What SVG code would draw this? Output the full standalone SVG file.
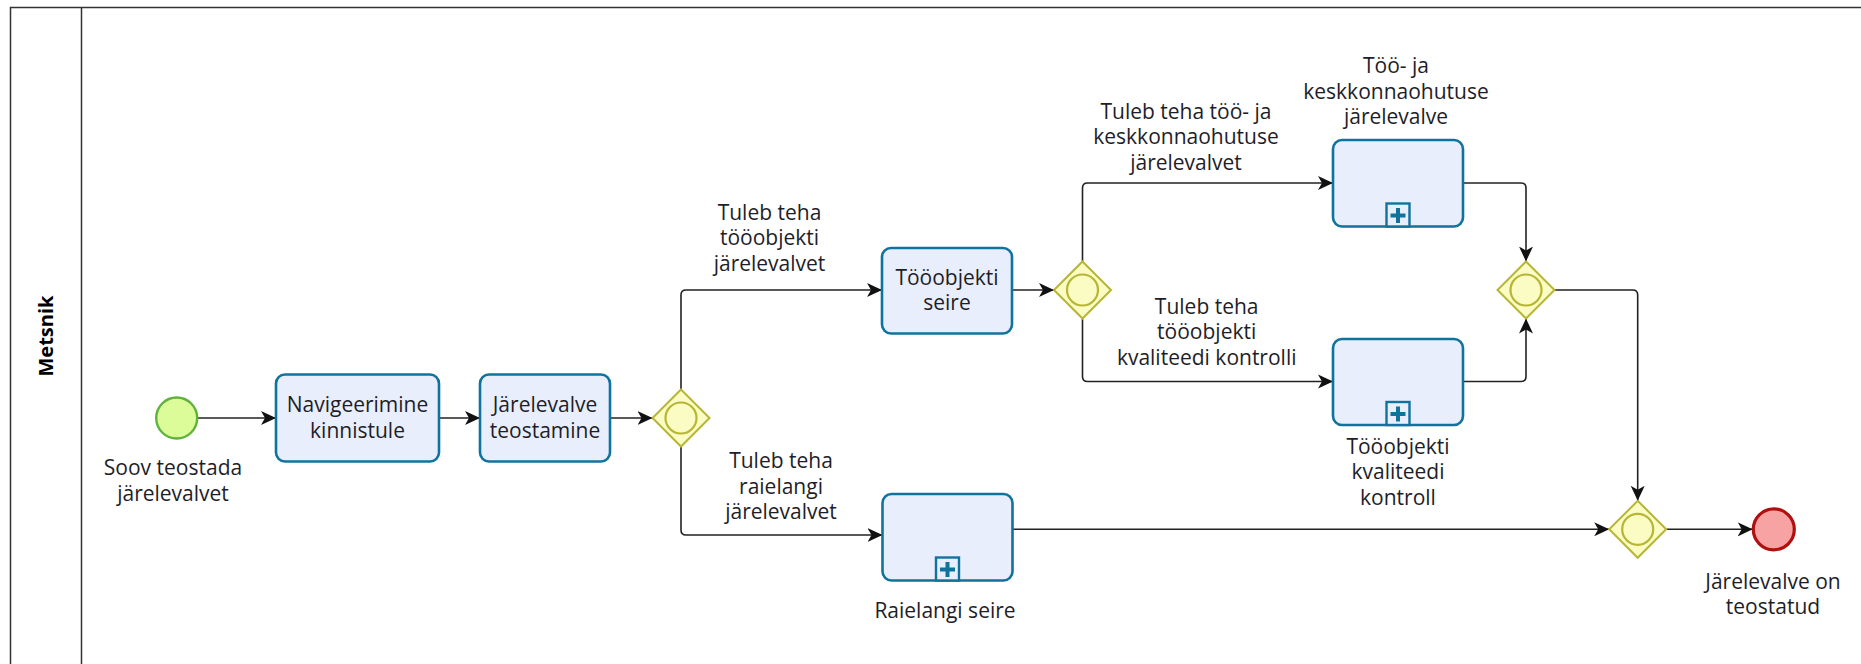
<svg xmlns="http://www.w3.org/2000/svg" width="1861" height="664" viewBox="0 0 1861 664">
<defs>
<style>
.t{font-family:"Open Sans","Noto Sans","Liberation Sans",sans-serif;font-size:21px;fill:#1e1e28;text-anchor:middle}
.task{fill:#e9eefd;stroke:#10739e;stroke-width:2.6}
.gw{fill:#fbfbc4;stroke:#b6b634;stroke-width:2}
.gwc{fill:none;stroke:#b6b634;stroke-width:2.2}
.flow{fill:none;stroke:#222;stroke-width:1.6}
.mk{fill:#e9eefd;stroke:#10739e;stroke-width:2.4}
</style>
<marker id="arr" markerWidth="16" markerHeight="16" refX="15" refY="8" orient="auto" markerUnits="userSpaceOnUse">
<path d="M0,1 L15,8 L0,15 L4,8 z" fill="#111"/>
</marker>
</defs>
<rect x="0" y="0" width="1861" height="664" fill="#fff"/>
<g id="pool">
<rect x="10.5" y="7.5" width="1870" height="680" fill="none" stroke="#333" stroke-width="1.5"/>
<line x1="81.5" y1="7.5" x2="81.5" y2="664" stroke="#333" stroke-width="1.5"/>
<text x="46" y="336" transform="rotate(-90 46 336)" dy="7" style="font-family:'Open Sans','Noto Sans',sans-serif;font-size:20px;font-weight:bold;fill:#000;text-anchor:middle">Metsnik</text>
</g>
<g id="connectors">
<path class="flow" marker-end="url(#arr)" d="M197.7,418 L276,418"/>
<path class="flow" marker-end="url(#arr)" d="M439,418 L480,418"/>
<path class="flow" marker-end="url(#arr)" d="M610,418 L652.5,418"/>
<path class="flow" marker-end="url(#arr)" d="M681,389.5 L681,295 Q681,290 686,290 L882,290"/>
<path class="flow" marker-end="url(#arr)" d="M681,446.5 L681,530 Q681,535 686,535 L882.5,535"/>
<path class="flow" marker-end="url(#arr)" d="M1012,290 L1054,290"/>
<path class="flow" marker-end="url(#arr)" d="M1082.5,261.5 L1082.5,188 Q1082.5,183 1087.5,183 L1333,183"/>
<path class="flow" marker-end="url(#arr)" d="M1082.5,318.5 L1082.5,376.5 Q1082.5,381.5 1087.5,381.5 L1333,381.5"/>
<path class="flow" marker-end="url(#arr)" d="M1463,183 L1521,183 Q1526,183 1526,188 L1526,261.5"/>
<path class="flow" marker-end="url(#arr)" d="M1463,381.5 L1521,381.5 Q1526,381.5 1526,376.5 L1526,318.5"/>
<path class="flow" marker-end="url(#arr)" d="M1554.5,290 L1632.7,290 Q1637.7,290 1637.7,295 L1637.7,500.8"/>
<path class="flow" marker-end="url(#arr)" d="M1012.3,529.3 L1609.2,529.3"/>
<path class="flow" marker-end="url(#arr)" d="M1666.2,529.3 L1752.7,529.3"/>
</g>
<g id="start">
<circle cx="176.7" cy="418" r="20.5" fill="#dcfc9a" stroke="#5fb33a" stroke-width="2.4"/>
<text class="t" x="173" y="475">Soov teostada</text>
<text class="t" x="173" y="500.7">järelevalvet</text>
</g>
<g id="task-navigeerimine">
<rect class="task" x="276" y="374.5" width="163" height="87" rx="9"/>
<text class="t" x="357.5" y="412">Navigeerimine</text>
<text class="t" x="357.5" y="437.7">kinnistule</text>
</g>
<g id="task-jarelevalve">
<rect class="task" x="480" y="374.5" width="130" height="87" rx="9"/>
<text class="t" x="545" y="412">Järelevalve</text>
<text class="t" x="545" y="437.7">teostamine</text>
</g>
<g id="gw1">
<path class="gw" d="M681,389.5 L709.5,418 L681,446.5 L652.5,418 z"/>
<circle class="gwc" cx="681" cy="418" r="15.5"/>
</g>
<g id="label-tooobjekti">
<text class="t" x="769.5" y="219.5">Tuleb teha</text>
<text class="t" x="769.5" y="245.2">tööobjekti</text>
<text class="t" x="769.5" y="270.9">järelevalvet</text>
</g>
<g id="label-raielangi">
<text class="t" x="781" y="468">Tuleb teha</text>
<text class="t" x="781" y="493.7">raielangi</text>
<text class="t" x="781" y="519.4">järelevalvet</text>
</g>
<g id="task-seire">
<rect class="task" x="882" y="248" width="130" height="85.5" rx="9"/>
<text class="t" x="947" y="284.7">Tööobjekti</text>
<text class="t" x="947" y="310.4">seire</text>
</g>
<g id="sub-raielangi">
<rect class="task" x="882.5" y="494" width="130" height="86.5" rx="9"/>
<rect class="mk" x="936" y="557.5" width="23" height="23"/>
<path d="M945.5,562 h4 v5.5 h5.5 v4 h-5.5 v5.5 h-4 v-5.5 h-5.5 v-4 h5.5 z" fill="#10739e"/>
<text class="t" x="945" y="618">Raielangi seire</text>
</g>
<g id="gw2">
<path class="gw" d="M1082.5,261.5 L1111,290 L1082.5,318.5 L1054,290 z"/>
<circle class="gwc" cx="1082.5" cy="290" r="15.5"/>
</g>
<g id="label-oohutus">
<text class="t" x="1186" y="118.7">Tuleb teha töö- ja</text>
<text class="t" x="1186" y="144.4">keskkonnaohutuse</text>
<text class="t" x="1186" y="170">järelevalvet</text>
</g>
<g id="label-kvaliteet">
<text class="t" x="1206.7" y="313.7">Tuleb teha</text>
<text class="t" x="1206.7" y="339.4">tööobjekti</text>
<text class="t" x="1206.7" y="365">kvaliteedi kontrolli</text>
</g>
<g id="sub-ohutus">
<rect class="task" x="1333" y="140" width="130" height="86.5" rx="9"/>
<rect class="mk" x="1386.5" y="203.5" width="23" height="23"/>
<path d="M1396,208 h4 v5.5 h5.5 v4 h-5.5 v5.5 h-4 v-5.5 h-5.5 v-4 h5.5 z" fill="#10739e"/>
<text class="t" x="1396" y="73">Töö- ja</text>
<text class="t" x="1396" y="98.7">keskkonnaohutuse</text>
<text class="t" x="1396" y="124.3">järelevalve</text>
</g>
<g id="sub-kvaliteet">
<rect class="task" x="1333" y="339" width="130" height="86" rx="9"/>
<rect class="mk" x="1386.5" y="402" width="23" height="23"/>
<path d="M1396,406.5 h4 v5.5 h5.5 v4 h-5.5 v5.5 h-4 v-5.5 h-5.5 v-4 h5.5 z" fill="#10739e"/>
<text class="t" x="1398" y="453.7">Tööobjekti</text>
<text class="t" x="1398" y="479.4">kvaliteedi</text>
<text class="t" x="1398" y="505">kontroll</text>
</g>
<g id="gw3">
<path class="gw" d="M1526,261.5 L1554.5,290 L1526,318.5 L1497.5,290 z"/>
<circle class="gwc" cx="1526" cy="290" r="15.5"/>
</g>
<g id="gw4">
<path class="gw" d="M1637.7,500.8 L1666.2,529.3 L1637.7,557.8 L1609.2,529.3 z"/>
<circle class="gwc" cx="1637.7" cy="529.3" r="15.5"/>
</g>
<g id="end">
<circle cx="1773.8" cy="529.3" r="20.5" fill="#f8a3a3" stroke="#b20f0f" stroke-width="3.2"/>
<text class="t" x="1773" y="588.7">Järelevalve on</text>
<text class="t" x="1773" y="614.4">teostatud</text>
</g>
</svg>
